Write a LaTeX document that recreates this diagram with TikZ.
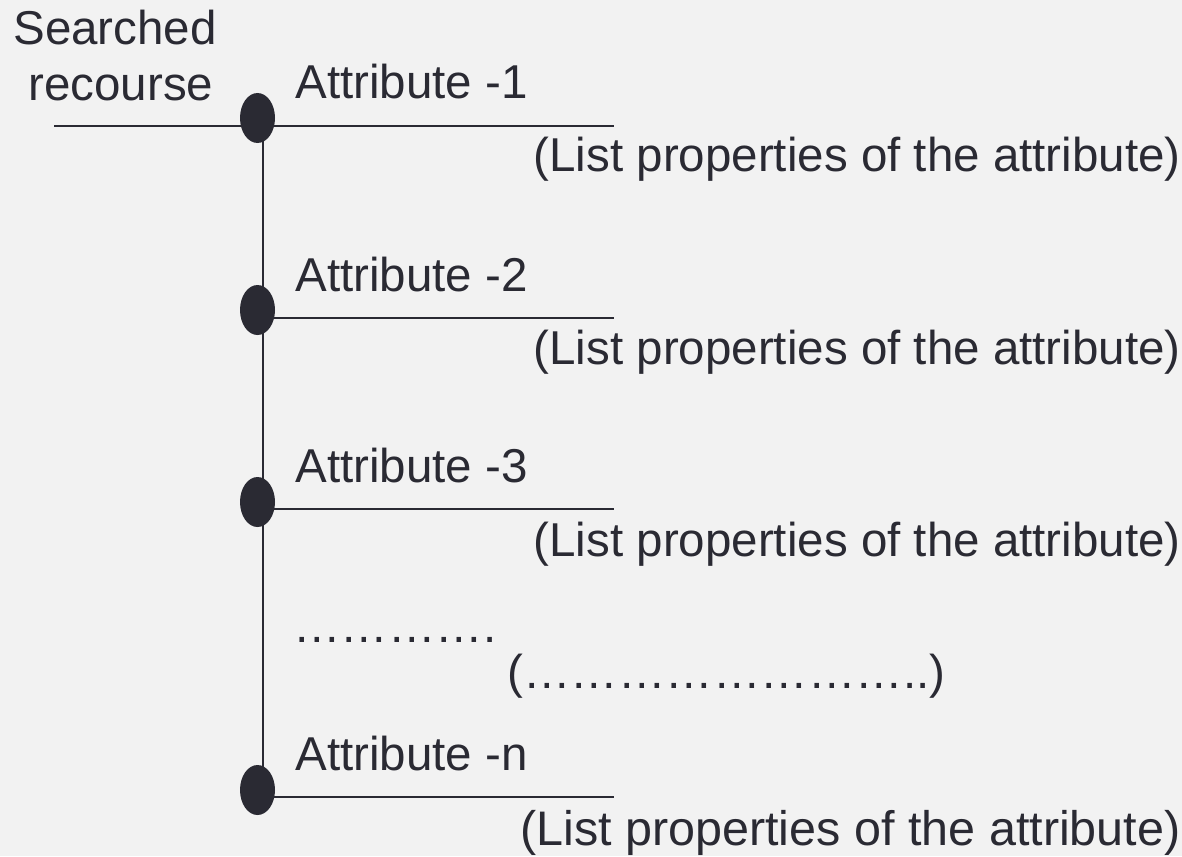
\documentclass[tikz,border=0pt]{standalone}
\usepackage{fontspec}
\setmainfont{Liberation Sans}
\usetikzlibrary{shapes.geometric}
\definecolor{ink}{HTML}{2A2A33}
\definecolor{bg}{HTML}{F2F2F2}
\begin{document}
\begin{tikzpicture}[x=0.5pt,y=-0.5pt,
  dotnode/.style={ellipse,fill=ink,draw=none,inner sep=0pt,minimum width=17.5pt,minimum height=25pt},
  wire/.style={draw=ink,line width=1pt},
  lbl/.style={inner sep=0pt,anchor=base west,text=ink,font=\fontsize{23.75}{28}\selectfont},
  prop/.style={inner sep=0pt,anchor=base east,text=ink,font=\fontsize{23.75}{28}\selectfont},
  propbig/.style={prop,font=\fontsize{24.25}{29}\selectfont}]
\fill[bg] (0,0) rectangle (1182,856);
\useasboundingbox (0,0) rectangle (1182,856);
% coordinates for connectors
\coordinate (vtop) at (263,118);
\coordinate (vbot) at (263,790);
\coordinate (s0) at (54,126);
\coordinate (h1s) at (263,126);
\coordinate (h1) at (614,126);
\coordinate (h2s) at (263,318);
\coordinate (h2) at (614,318);
\coordinate (h3s) at (263,509);
\coordinate (h3) at (614,509);
\coordinate (h4s) at (263,797);
\coordinate (h4) at (614,797);
% connectors
\draw[wire] (vtop) -- (vbot);
\draw[wire] (s0) -- (h1);
\draw[wire] (h2s) -- (h2);
\draw[wire] (h3s) -- (h3);
\draw[wire] (h4s) -- (h4);
% ellipses
\node[dotnode] (e1) at (257.5,118) {};
\node[dotnode] (e2) at (257.5,310) {};
\node[dotnode] (e3) at (257.5,502) {};
\node[dotnode] (e4) at (257.5,790) {};
% texts
\node[lbl] (sr1) at (13,45) {Searched};
\node[lbl] (sr2) at (28,101) {recourse};
\node[lbl] (a1) at (295,98) {Attribute -1};
\node[lbl] (a2) at (295,291) {Attribute -2};
\node[lbl] (a3) at (295,482) {Attribute -3};
\node[lbl] (an) at (295,770) {Attribute -n};
\node[prop] (p1) at (1181,171) {(List properties of the attribute)};
\node[prop] (p2) at (1181,364) {(List properties of the attribute)};
\node[prop] (p3) at (1181,556) {(List properties of the attribute)};
\node[propbig] (pn) at (1181,845) {(List properties of the attribute)};
\node[lbl] (d1) at (293,642) {………….};
\node[lbl] (d2) at (507,688) {(……………………..)};
\end{tikzpicture}
\end{document}
